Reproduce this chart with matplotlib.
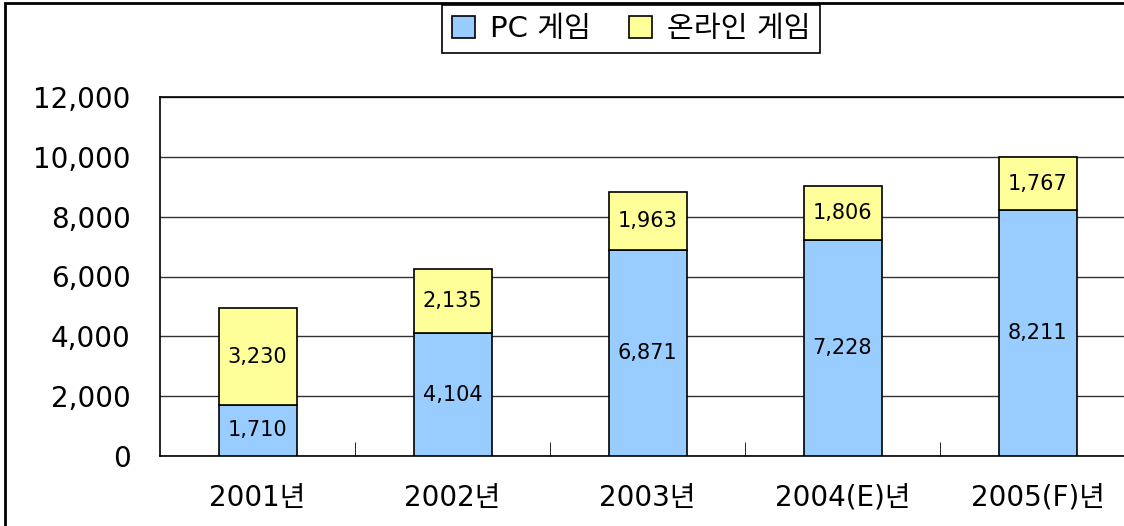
import matplotlib.pyplot as plt
from matplotlib.patches import Rectangle
from matplotlib.ticker import FuncFormatter, FixedLocator

plt.rcParams['font.family'] = ['DejaVu Sans', 'Noto Sans CJK KR']

years = ['2001년', '2002년', '2003년', '2004(E)년', '2005(F)년']
pc_game = [1710, 4104, 6871, 7228, 8211]
online_game = [3230, 2135, 1963, 1806, 1767]

blue = '#99CCFF'
yellow = '#FFFF99'

fig = plt.figure(figsize=(11.24, 5.26), dpi=100)
# chart area extends past the right edge, like the cropped original
ax = fig.add_axes([160 / 1124, 70 / 526, 975 / 1124, 359 / 526])

x = list(range(len(years)))
ax.bar(x, pc_game, width=0.4, color=blue, edgecolor='black', linewidth=1.2,
       label='PC 게임', zorder=3)
ax.bar(x, online_game, width=0.4, bottom=pc_game, color=yellow, edgecolor='black',
       linewidth=1.2, label='온라인 게임', zorder=3)

for i in x:
    ax.text(i, pc_game[i] / 2, f'{pc_game[i]:,}', ha='center', va='center',
            fontsize=15, zorder=4)
    ax.text(i, pc_game[i] + online_game[i] / 2, f'{online_game[i]:,}',
            ha='center', va='center', fontsize=15, zorder=4)

ax.set_xlim(-0.5, len(years) - 0.5)
ax.set_ylim(0, 12000)
ax.set_yticks(range(0, 12001, 2000))
ax.yaxis.set_major_formatter(FuncFormatter(lambda v, p: f'{int(v):,}'))
ax.grid(axis='y', color='#333333', linewidth=1, zorder=0)

ax.set_xticks(x)
ax.set_xticklabels(years, fontsize=20)
ax.tick_params(axis='x', length=0, pad=20)
ax.xaxis.set_minor_locator(FixedLocator([i + 0.5 for i in range(len(years) - 1)]))
ax.tick_params(axis='x', which='minor', direction='in', length=10, color='black')
ax.tick_params(axis='y', direction='in', length=0, labelsize=20, pad=21)

for s in ax.spines.values():
    s.set_color('black')
    s.set_linewidth(1.2)
ax.spines['right'].set_visible(False)

leg = fig.legend(loc='center', bbox_to_anchor=(631 / 1124, 1 - 29 / 526), ncol=2,
                 fontsize=21, frameon=True, fancybox=False, edgecolor='black',
                 framealpha=1, handlelength=0.8, handleheight=0.8, handletextpad=0.5,
                 columnspacing=1.3, borderpad=0.35)
leg.get_frame().set_linewidth(1.2)

# outer chart border
fig.patches.append(Rectangle((5 / 1124, -0.1), 1.2, 1.1 - 3 / 526, transform=fig.transFigure,
                             fill=False, edgecolor='black', linewidth=2))

fig.savefig('out.png', dpi=100)
